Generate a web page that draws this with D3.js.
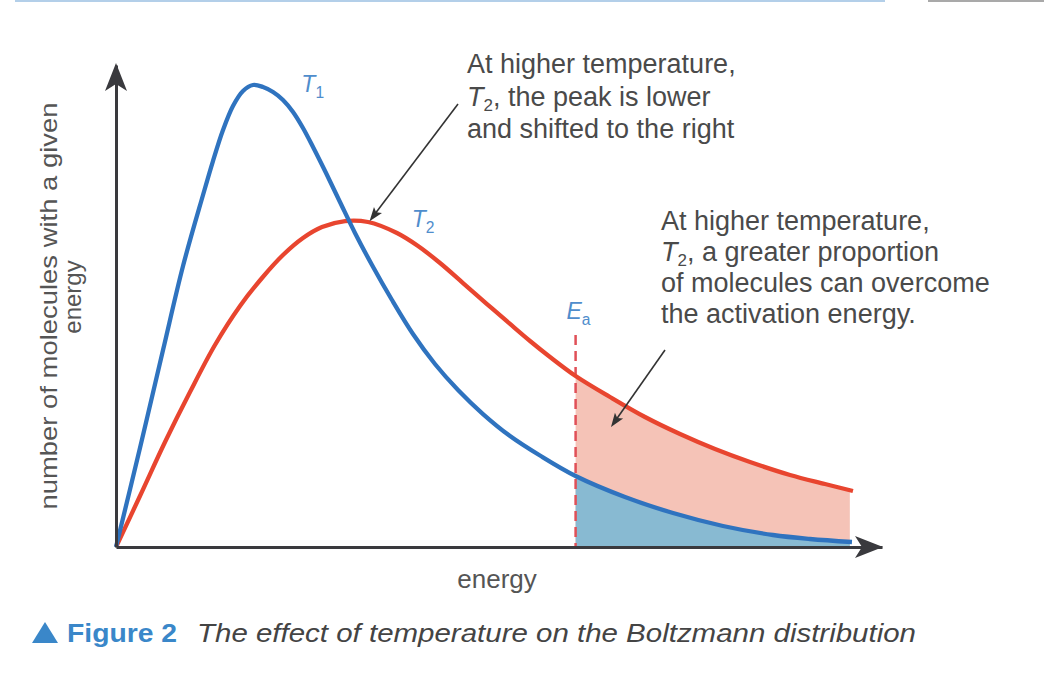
<!DOCTYPE html>
<html><head><meta charset="utf-8">
<script src="https://cdn.jsdelivr.net/npm/d3@7"></script>
<style>html,body{margin:0;padding:0;background:#fff;} svg{display:block;}</style>
</head><body>
<svg id="chart" width="1044" height="678"></svg>
<script>
// ---- data (energy in arbitrary units 0..100, number of molecules in arbitrary units 0..100)
const energyT1 = [0, 3.13, 6.14, 8.75, 11.36, 12.66, 13.97, 15.27, 16.58, 17.89, 19.19, 20.50, 21.80, 23.11, 24.41, 25.72, 27.42, 29.24, 31.20, 33.42, 36.03, 38.77, 41.64, 44.65, 47.91, 51.44, 55.35, 60, 66.45, 72.72, 79.24, 85.77, 90.60, 96.08];
const countT1  = [0, 20.54, 40.87, 58.30, 73.03, 80.08, 86.51, 91.49, 94.61, 95.85, 95.44, 94.40, 92.74, 90.25, 86.93, 82.99, 77.59, 71.58, 65.15, 58.51, 51.24, 44.19, 37.97, 32.57, 27.59, 23.03, 18.98, 14.73, 10.37, 7.05, 4.36, 2.49, 1.66, 1.04];
const energyT2 = [0, 3.13, 6.40, 9.66, 12.92, 16.19, 19.06, 21.80, 24.41, 26.89, 29.90, 32.90, 36.68, 39.43, 42.30, 45.30, 48.43, 51.44, 54.05, 56.66, 60, 64.49, 69.06, 73.63, 78.20, 82.77, 87.99, 92.56, 96.21];
const countT2  = [0, 10.58, 21.78, 32.16, 41.91, 50.00, 55.81, 60.58, 64.11, 66.39, 67.63, 67.43, 65.15, 62.45, 58.92, 54.77, 50.41, 46.27, 42.74, 39.42, 35.48, 31.12, 26.97, 23.44, 20.33, 17.63, 14.94, 13.07, 11.62];
const activationEnergy = 60;
const tailEnd = 95.8;
const axisLabels = { x: "energy", y1: "number of molecules with a given", y2: "energy" };
const note1 = ["At higher temperature,", ", the peak is lower", "and shifted to the right"];
const note2 = ["At higher temperature,", ", a greater proportion", "of molecules can overcome", "the activation energy."];
const captionLabel = "Figure 2";
const captionText = "The effect of temperature on the Boltzmann distribution";

const seriesT1 = energyT1.map((e, i) => ({ e, n: countT1[i] }));
const seriesT2 = energyT2.map((e, i) => ({ e, n: countT2[i] }));

const BLUE = "#2f73bf", RED = "#e8452f", BLUE_FILL = "#88bad2", RED_FILL = "#f5c3b7";
const LABEL_BLUE = "#4f8dcc", TEXT = "#4a4a4a", AXIS = "#3a3a3e";
const FONT = "'Liberation Sans', Arial, sans-serif";

const svg = d3.select("#chart");
const x = d3.scaleLinear().domain([0, 100]).range([116, 882]);
const y = d3.scaleLinear().domain([0, 100]).range([547, 65]);

// top decoration
svg.append("rect").attr("x", 15).attr("y", 0).attr("width", 870).attr("height", 2).attr("fill", "#b3cfe9");
svg.append("rect").attr("x", 928).attr("y", 0).attr("width", 116).attr("height", 2).attr("fill", "#a9a9a9");

const defs = svg.append("defs");
defs.append("clipPath").attr("id", "tail")
  .append("rect")
  .attr("x", x(activationEnergy)).attr("y", y(100))
  .attr("width", x(tailEnd) - x(activationEnergy)).attr("height", y(0) - y(100));

const curve = d3.curveCatmullRom.alpha(0.5);
const area = d3.area().x(d => x(d.e)).y0(y(0)).y1(d => y(d.n)).curve(curve);
const line = d3.line().x(d => x(d.e)).y(d => y(d.n)).curve(curve);

// tail fills
svg.append("path").datum(seriesT2).attr("d", area).attr("fill", RED_FILL).attr("clip-path", "url(#tail)");
svg.append("path").datum(seriesT1).attr("d", area).attr("fill", BLUE_FILL).attr("clip-path", "url(#tail)");

// Ea dashed line
svg.append("line")
  .attr("x1", x(activationEnergy)).attr("x2", x(activationEnergy))
  .attr("y1", y(44)).attr("y2", y(0))
  .attr("stroke", "#e05058").attr("stroke-width", 2.5).attr("stroke-dasharray", "10,6");

// curves
svg.append("path").datum(seriesT2).attr("d", line).attr("fill", "none").attr("stroke", RED).attr("stroke-width", 4.3);
svg.append("path").datum(seriesT1).attr("d", line).attr("fill", "none").attr("stroke", BLUE).attr("stroke-width", 4.3);

// axes (no ticks)
const gx = svg.append("g").attr("transform", `translate(0,${y(0)})`)
  .call(d3.axisBottom(x).tickValues([]).tickSizeOuter(0));
const gy = svg.append("g").attr("transform", `translate(${x(0)},0)`)
  .call(d3.axisLeft(y).tickValues([]).tickSizeOuter(0));
[gx, gy].forEach(g => g.select(".domain").attr("stroke", AXIS).attr("stroke-width", 3));

function arrowHead(tx, ty, angle, len, half, notch, fill) {
  const a = angle * Math.PI / 180;
  const ux = Math.cos(a), uy = Math.sin(a), px = -uy, py = ux;
  const pts = [
    [tx, ty],
    [tx - ux * len + px * half, ty - uy * len + py * half],
    [tx - ux * (len - notch), ty - uy * (len - notch)],
    [tx - ux * len - px * half, ty - uy * len - py * half]
  ];
  svg.append("path").attr("d", "M" + pts.map(p => p.join(",")).join("L") + "Z").attr("fill", fill);
}
// axis arrow heads
arrowHead(x(0), y(100) - 2, -90, 28, 11, 7, AXIS);
arrowHead(x(100) + 1, y(0), 0, 28, 11, 7, AXIS);

// annotation pointer arrows
function pointer(x1, y1, x2, y2) {
  const ang = Math.atan2(y2 - y1, x2 - x1);
  svg.append("line").attr("x1", x1).attr("y1", y1)
    .attr("x2", x2 - Math.cos(ang) * 7).attr("y2", y2 - Math.sin(ang) * 7)
    .attr("stroke", "#333").attr("stroke-width", 1.6);
  arrowHead(x2, y2, ang * 180 / Math.PI, 14, 5, 3, "#333");
}
pointer(458, 104, x(33.1), y(67.4) - 1);
pointer(665, 350, 611, 427);

// curve labels
function subLabel(px, py, main, sub, size, color) {
  const t = svg.append("text").attr("x", px).attr("y", py)
    .attr("font-family", FONT).attr("font-size", size).attr("fill", color);
  t.append("tspan").attr("font-style", "italic").text(main);
  t.append("tspan").attr("dy", size * 0.28).attr("font-size", size * 0.68).text(sub);
  return t;
}
subLabel(x(24.2), y(94.4), "T", "1", 23, LABEL_BLUE);
subLabel(x(38.6), y(66.4), "T", "2", 23, LABEL_BLUE);
subLabel(x(58.8), y(47.3), "E", "a", 23, LABEL_BLUE);

// annotation texts
function note(px, py, lines, lh) {
  const t = svg.append("text").attr("font-family", FONT).attr("font-size", 27).attr("fill", TEXT);
  lines.forEach((ln, i) => {
    const yy = py + i * lh;
    if (i === 1) {
      t.append("tspan").attr("x", px).attr("y", yy).attr("font-style", "italic").text("T");
      t.append("tspan").attr("dy", 5).attr("font-size", 17).text("2");
      t.append("tspan").attr("dy", -5).text(ln);
    } else {
      t.append("tspan").attr("x", px).attr("y", yy).text(ln);
    }
  });
}
note(467, 73, note1, 32.5);
note(661, 230, note2, 31);

// axis titles
svg.append("text").attr("x", 497).attr("y", 588).attr("text-anchor", "middle")
  .attr("font-family", FONT).attr("font-size", 26).attr("fill", "#555").text(axisLabels.x);
svg.append("text").attr("transform", "translate(57,306) rotate(-90)").attr("text-anchor", "middle")
  .attr("font-family", FONT).attr("font-size", 24).attr("fill", "#555")
  .attr("textLength", 407).attr("lengthAdjust", "spacingAndGlyphs").text(axisLabels.y1);
svg.append("text").attr("transform", "translate(81,297) rotate(-90)").attr("text-anchor", "middle")
  .attr("font-family", FONT).attr("font-size", 24).attr("fill", "#555").text(axisLabels.y2);

// caption
svg.append("path").attr("d", "M45,622L58,643L32,643Z").attr("fill", "#3a87c9");
svg.append("text").attr("x", 67).attr("y", 642).attr("font-family", FONT).attr("font-weight", "bold")
  .attr("font-size", 25).attr("fill", "#3a87c9").attr("textLength", 110).attr("lengthAdjust", "spacingAndGlyphs").text(captionLabel);
svg.append("text").attr("x", 197).attr("y", 642).attr("font-family", FONT).attr("font-style", "italic")
  .attr("font-size", 25).attr("fill", "#444").attr("textLength", 719).attr("lengthAdjust", "spacingAndGlyphs").text(captionText);
</script>
</body></html>
